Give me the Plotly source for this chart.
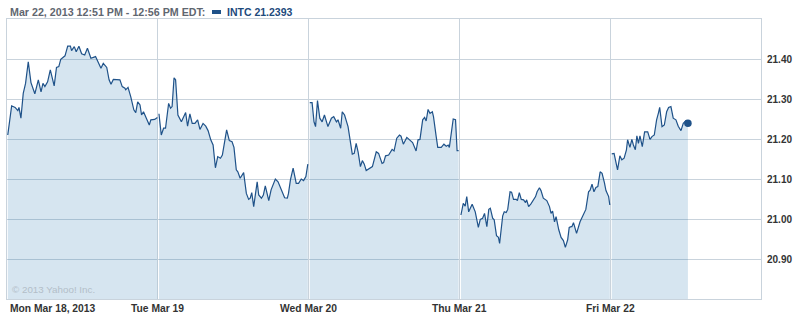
import plotly.graph_objects as go

# Minutes after the 9:30 open, and price, for each trading day
mon_min = [2, 12, 21, 28, 31, 36, 42, 48, 55, 62, 72, 81, 88, 93, 98, 105, 112, 122, 128, 134, 139, 150, 157, 164, 167, 174, 179, 186, 193, 201, 208, 217, 229, 236, 243, 249, 258, 264, 269, 275, 292, 298, 305, 307, 313, 320, 328, 333, 338, 344, 348, 353, 361, 368, 372, 382, 389]
mon_px = [21.21, 21.283, 21.279, 21.271, 21.279, 21.252, 21.314, 21.339, 21.393, 21.341, 21.313, 21.348, 21.318, 21.339, 21.331, 21.343, 21.373, 21.333, 21.379, 21.381, 21.399, 21.408, 21.432, 21.432, 21.421, 21.431, 21.418, 21.432, 21.413, 21.41, 21.427, 21.402, 21.406, 21.391, 21.377, 21.389, 21.379, 21.348, 21.337, 21.349, 21.348, 21.331, 21.327, 21.323, 21.329, 21.306, 21.273, 21.266, 21.293, 21.285, 21.26, 21.268, 21.248, 21.235, 21.248, 21.249, 21.254]

tue_min = [3, 9, 15, 20, 28, 33, 37, 42, 46, 52, 61, 72, 77, 83, 89, 96, 103, 109, 117, 124, 130, 137, 143, 149, 155, 162, 167, 172, 178, 185, 192, 197, 203, 207, 213, 222, 229, 235, 239, 243, 248, 257, 261, 268, 273, 278, 287, 293, 304, 311, 319, 328, 335, 338, 343, 350, 358, 364, 371, 377, 383, 388]
tue_px = [21.263, 21.21, 21.227, 21.227, 21.289, 21.277, 21.281, 21.353, 21.348, 21.26, 21.243, 21.266, 21.232, 21.263, 21.239, 21.239, 21.248, 21.224, 21.239, 21.232, 21.221, 21.198, 21.185, 21.128, 21.156, 21.152, 21.16, 21.193, 21.223, 21.196, 21.193, 21.179, 21.123, 21.118, 21.102, 21.116, 21.064, 21.049, 21.052, 21.066, 21.031, 21.093, 21.06, 21.052, 21.06, 21.083, 21.046, 21.073, 21.1, 21.093, 21.073, 21.053, 21.052, 21.064, 21.098, 21.127, 21.089, 21.089, 21.1, 21.096, 21.106, 21.137]

wed_min = [3, 9, 14, 18, 23, 29, 35, 41, 50, 59, 65, 72, 76, 83, 87, 93, 102, 106, 113, 118, 123, 128, 134, 139, 144, 149, 158, 165, 175, 181, 190, 194, 199, 207, 216, 221, 228, 235, 239, 245, 254, 261, 269, 278, 283, 288, 295, 300, 304, 309, 314, 320, 323, 330, 334, 343, 350, 356, 361, 364, 370, 374, 380, 384, 388]
wed_px = [21.291, 21.291, 21.243, 21.231, 21.296, 21.252, 21.243, 21.26, 21.231, 21.252, 21.256, 21.243, 21.248, 21.227, 21.268, 21.26, 21.231, 21.202, 21.162, 21.164, 21.189, 21.168, 21.131, 21.146, 21.137, 21.121, 21.127, 21.131, 21.168, 21.164, 21.139, 21.141, 21.158, 21.16, 21.174, 21.17, 21.202, 21.21, 21.207, 21.187, 21.204, 21.198, 21.191, 21.17, 21.198, 21.199, 21.248, 21.254, 21.245, 21.274, 21.264, 21.268, 21.256, 21.206, 21.179, 21.179, 21.187, 21.182, 21.185, 21.179, 21.231, 21.25, 21.248, 21.171, 21.171]

thu_min = [4, 10, 15, 19, 24, 33, 41, 49, 54, 60, 65, 71, 76, 80, 86, 90, 96, 101, 104, 112, 116, 121, 125, 131, 135, 140, 147, 150, 155, 160, 166, 171, 174, 179, 185, 191, 197, 201, 207, 211, 217, 226, 233, 237, 241, 246, 250, 257, 263, 269, 274, 280, 284, 289, 291, 295, 303, 312, 319, 327, 334, 338, 343, 348, 353, 358, 364, 369, 375, 379, 386, 389]
thu_px = [21.01, 21.039, 21.032, 21.056, 21.018, 21.037, 21.018, 20.979, 20.999, 21.002, 21.014, 20.981, 21.024, 21.027, 21.002, 20.998, 20.958, 20.954, 20.939, 21.008, 21.018, 21.016, 21.024, 21.068, 21.067, 21.049, 21.049, 21.046, 21.066, 21.049, 21.048, 21.041, 21.048, 21.031, 21.038, 21.049, 21.056, 21.068, 21.078, 21.071, 21.052, 21.046, 21.031, 21.014, 21.02, 20.993, 21.006, 20.973, 20.954, 20.946, 20.929, 20.948, 20.979, 20.981, 20.981, 20.991, 20.964, 20.993, 21.006, 21.024, 21.068, 21.072, 21.087, 21.068, 21.079, 21.081, 21.118, 21.114, 21.091, 21.071, 21.056, 21.035]

fri_min = [4, 10, 19, 25, 30, 36, 42, 45, 51, 56, 60, 65, 69, 73, 77, 83, 89, 97, 103, 108, 114, 120, 125, 128, 134, 140, 146, 151, 157, 163, 170, 176, 183, 189, 196, 201]
fri_px = [21.163, 21.164, 21.123, 21.158, 21.148, 21.152, 21.173, 21.198, 21.179, 21.199, 21.185, 21.173, 21.208, 21.189, 21.208, 21.181, 21.218, 21.218, 21.199, 21.206, 21.21, 21.248, 21.266, 21.279, 21.231, 21.235, 21.268, 21.279, 21.281, 21.252, 21.248, 21.232, 21.221, 21.239, 21.246, 21.2393]

days = [mon_min, tue_min, wed_min, thu_min, fri_min]
prices = [mon_px, tue_px, wed_px, thu_px, fri_px]
day_labels = ["Mon Mar 18, 2013", "Tue Mar 19", "Wed Mar 20", "Thu Mar 21", "Fri Mar 22"]
y_ticks = [20.90, 21.00, 21.10, 21.20, 21.30, 21.40]
session_len = 390
symbol = "INTC"
last_price = "21.2393"
header = "Mar 22, 2013 12:51 PM - 12:56 PM EDT:"

LINE = "#1f5289"
FILL = "rgba(30,110,170,0.18)"
GRID = "#c9d3dc"
FONT = "Liberation Sans, Arial, sans-serif"

fig = go.Figure()
for i, (mins, px) in enumerate(zip(days, prices)):
    xs = [i * session_len + m for m in mins]
    fig.add_trace(go.Scatter(
        x=xs, y=px, mode="lines", fill="tozeroy", fillcolor=FILL,
        line=dict(color=LINE, width=1.2), hoverinfo="skip", showlegend=False))

# last point dot
fig.add_trace(go.Scatter(
    x=[4 * session_len + fri_min[-1]], y=[fri_px[-1]], mode="markers",
    marker=dict(color=LINE, size=7.5), showlegend=False, hoverinfo="skip"))

fig.update_layout(
    width=800, height=314,
    margin=dict(l=7, r=39, t=19, b=15),
    paper_bgcolor="white", plot_bgcolor="white",
    font=dict(family=FONT, size=10, color="#333333"),
)
fig.update_xaxes(
    range=[0, 5 * session_len], tickvals=[i * session_len for i in range(5)],
    showticklabels=False, showgrid=True, gridcolor=GRID, gridwidth=1,
    showline=True, linecolor=GRID, mirror=True, zeroline=False, ticks="",
)
fig.update_yaxes(
    range=[20.8, 21.5], side="right", tickvals=y_ticks,
    ticktext=[f"{v:.2f}" for v in y_ticks],
    tickfont=dict(family=FONT, size=10, color="#333333", weight="bold"),
    showgrid=True, gridcolor=GRID, gridwidth=1, zeroline=False,
    showline=True, linecolor=GRID, mirror=True, ticks="", ticklabelstandoff=3,
)

# x-axis day labels
for i, lab in enumerate(day_labels):
    fig.add_annotation(
        x=i * session_len, y=0, xref="x", yref="paper",
        text=lab, showarrow=False,
        xanchor="left" if i == 0 else "center", yanchor="middle",
        xshift=1 if i == 0 else 0, yshift=-9,
        font=dict(family=FONT, size=10.3, color="#333333", weight="bold"))

# header
fig.add_annotation(
    x=0, y=1, xref="paper", yref="paper", text=header, showarrow=False,
    xanchor="left", yanchor="middle", xshift=1, yshift=7,
    font=dict(family=FONT, size=10.7, color="#5f6670", weight="bold"))
fig.add_annotation(
    x=0, y=1, xref="paper", yref="paper", text=f"{symbol} {last_price}",
    showarrow=False, xanchor="left", yanchor="middle", xshift=218, yshift=7,
    font=dict(family=FONT, size=10.5, color="#1d4a7c", weight="bold"))
fig.add_shape(type="rect", xref="paper", yref="paper",
              x0=(212 - 7) / 754, x1=(221 - 7) / 754,
              y0=(299 - 14) / 280, y1=(299 - 10) / 280,
              fillcolor=LINE, line=dict(width=0))

# copyright
fig.add_annotation(
    x=0, y=0, xref="paper", yref="paper", text="© 2013 Yahoo! Inc.",
    showarrow=False, xanchor="left", yanchor="bottom", xshift=3, yshift=2,
    font=dict(family=FONT, size=9.8, color="#b3bec8"))

fig.write_html("out.html")
